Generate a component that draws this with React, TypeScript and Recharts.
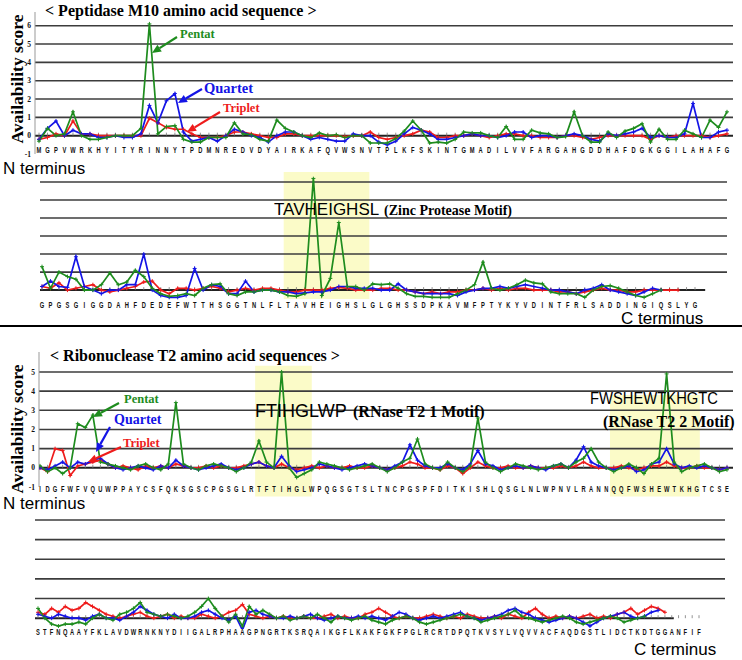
import React from "react";
import { LineChart, Line, XAxis, YAxis, ReferenceLine, ReferenceArea } from "recharts";

const GREEN = "#1e8c1e";
const BLUE = "#1414e6";
const RED = "#ee1c1c";

// ---- Peptidase M10, first row ----
const seqM10a = "MGPVWRKHYITYRINNYTPDMNREDVDYAIRKAFQVWSNVTPLKFSKINTGMADILVVFARGAHGDDHAFDGKGGILAHAFG".split("");
const pentatM10a = [-0.3, 0.4, 0.0, 0.1, 1.3, 0.0, -0.2, -0.2, -0.1, 0.0, 0.0, 0.0, 0.4, 6.1, 0.1, 0.5, 0.55, -0.2, -0.35, -0.35, -0.1, -0.1, -0.1, 0.7, 0.1, 0.05, -0.2, -0.3, 0.85, 0.4, 0.2, 0.0, -0.1, 0.15, 0.0, 0.05, -0.1, 0.0, 0.0, -0.4,
  -0.4, -0.4, -0.15, 0.25, 0.8, 0.3, -0.4, -0.35, -0.4, -0.2, 0.2, 0.15, 0.15, 0.0, -0.1, 0.5, -0.2, -0.2, 0.3, 0.15, 0.1, -0.1, -0.05, 1.3, 0.0, -0.35, -0.35, 0.2, -0.1, 0.25, 0.4, 0.65, -0.35, 0.35, -0.2, -0.2, 0.3, 0.1, -0.1, 0.85, 0.45, 1.3];
const quartetM10a = [-0.2, 0.4, 0.8, 0.0, 0.3, 0.1, 0.1, -0.1, -0.1, 0.0, -0.1, -0.1, 0.1, 1.65, 0.7, 1.9, 2.3, 0.2, -0.3, -0.2, -0.1, -0.3, 0.0, 0.35, 0.2, 0.0, -0.1, -0.35, 0.0, 0.2, 0.2, 0.0, -0.2, -0.1, -0.2, -0.3, -0.3, 0.1, 0.0, 0.0,
  -0.35, -0.5, -0.3, 0.1, 0.45, 0.3, 0.1, -0.2, -0.2, -0.1, 0.0, 0.1, 0.0, 0.0, -0.1, 0.0, 0.2, 0.2, -0.1, 0.0, 0.0, -0.1, 0.0, 0.1, 0.0, -0.2, -0.3, 0.1, 0.0, 0.1, 0.2, 0.4, -0.1, 0.0, -0.1, -0.1, 0.1, 1.75, -0.1, -0.1, 0.2, 0.3];
const tripletM10a = [-0.2, -0.1, 0.1, 0.0, 0.8, 0.1, 0.1, 0.0, 0.0, 0.0, 0.0, 0.0, 0.0, 0.95, 0.7, 0.45, 0.35, 0.35, 0.1, -0.1, -0.1, -0.1, 0.0, 0.2, 0.2, 0.1, 0.0, -0.1, -0.1, 0.1, 0.1, 0.0, 0.0, 0.0, 0.0, 0.0, -0.05, 0.0, 0.0, 0.2,
  -0.1, -0.2, -0.1, 0.0, 0.1, 0.3, 0.2, -0.1, -0.1, 0.0, 0.0, 0.1, 0.0, -0.1, 0.0, 0.1, 0.1, 0.0, 0.0, -0.1, -0.1, -0.1, 0.0, 0.0, -0.1, -0.2, -0.1, 0.0, 0.0, 0.0, 0.0, 0.0, -0.2, 0.0, -0.1, 0.0, 0.0, 0.0, 0.0, -0.1, 0.0, 0.1];

// ---- Peptidase M10, second row ----
const seqM10b = "GPGSGIGGDAHFDEDEFWTTHSGGTNLFLTAVHEIGHSLGLGHSSDPKAVMFPTYKYVDINTFRLSADDINGIQSLYG".split("");
const pentatM10b = [1.3, 0.1, 1.0, 0.75, 0.6, 0.0, 0.0, 0.3, 0.95, 0.3, 0.45, 1.1, 0.75, 0.1, -0.2, -0.35, -0.3, -0.2, -0.3, 0.1, 0.3, 0.35, -0.2, -0.3, -0.1, -0.1, 0.0, 0.0, -0.1, -0.3, -0.35, -0.2, 6.2, -0.3, 0.65, 3.75, 0.2, 0.2, 0.0,
  0.35, 0.3, 0.35, 0.1, -0.2, -0.35, -0.35, -0.4, -0.4, -0.4, -0.2, 0.0, 0.3, 1.55, 0.1, 0.0, 0.1, 0.3, 0.55, 0.4, 0.35, -0.1, -0.2, -0.2, -0.2, -0.4, 0.0, 0.2, 0.25, 0.1, -0.1, -0.3, -0.4, -0.2, 0.0, null, null, null, null];
const quartetM10b = [0.2, 0.5, 0.2, 0.15, 1.85, 0.2, 0.0, -0.2, 0.0, 0.0, 0.3, 0.3, 2.0, 0.0, -0.3, -0.4, -0.4, -0.3, 1.2, 0.0, 0.3, 0.2, -0.2, -0.2, 0.5, -0.1, 0.0, 0.0, -0.1, -0.1, -0.2, -0.15, -0.1, -0.1, 0.0, 0.2, 0.2, 0.1, 0.1,
  0.1, 0.0, 0.0, 0.35, 0.0, -0.1, -0.2, -0.2, -0.2, -0.2, -0.3, -0.1, 0.0, 0.1, 0.1, 0.2, 0.1, 0.2, 0.3, 0.2, 0.1, 0.0, 0.0, -0.1, -0.2, 0.0, 0.1, 0.3, 0.0, -0.1, -0.2, -0.3, -0.1, 0.1, 0.0, null, null, null, null];
const tripletM10b = [0.2, 0.1, 0.4, 0.0, 0.1, 0.2, 0.3, 0.0, -0.1, 0.0, 0.1, 0.2, 0.45, 0.5, 0.0, -0.2, 0.1, 0.1, 0.0, 0.1, 0.2, 0.1, -0.1, 0.0, 0.1, 0.0, 0.1, 0.1, 0.0, -0.1, -0.1, 0.0, 0.0, 0.0, 0.1, 0.15, 0.1, 0.0, 0.0,
  0.0, 0.1, 0.1, 0.0, 0.0, -0.1, -0.2, -0.1, -0.2, -0.1, -0.1, 0.0, 0.0, 0.1, 0.0, 0.1, 0.0, 0.1, 0.1, 0.0, 0.0, 0.0, -0.1, -0.1, -0.2, -0.1, 0.0, 0.1, 0.0, 0.0, -0.1, -0.1, 0.0, 0.0, 0.0, 0.0, 0.0, null, null];

// ---- Ribonuclease T2, first row ----
const seqT2a = "IDGFWFVQUWPPAYCSFQKSGSCPGSGLRTFTIHGLWPQGSGTSLTNCPGSPFDITKISHLQSGLNLWPNVLRANNQQFWSHEWTKHGTCSE".split("");
const pentatT2a = [0.1, -0.2, 0.0, -0.3, 0.0, 2.3, 2.1, 2.75, 0.3, 0.2, 0.1, 0.0, -0.1, 0.1, 0.2, 0.0, -0.1, 0.2, 3.4, 0.2, 0.0, -0.1, 0.1, 0.2, 0.1, 0.0, -0.2, 0.0, 0.3, 1.4, 0.3, 0.0, 5.0, 0.0, -0.5, -0.3, -0.1, 0.3, 0.2, 0.1, 0.0, -0.1, 0.0, 0.1, 0.2, 0.0, -0.2, 0.0, 0.3, 0.5, 1.5, 0.2, 0.0, -0.1, 0.3, 0.0, -0.2, 0.1, 2.6, 0.3, 0.0, -0.2, 0.0, 0.2, 0.1, 0.0, -0.1, 0.0, 0.1, 0.2, 0.0, 0.3, 0.5, 1.0, 0.3, 0.0, -0.2, 0.0, 0.2, 0.0, -0.3, 0.2, 0.5, 4.9, 0.3, -0.2, 0.0, 0.1, 0.2, 0.0, -0.2, -0.1];
const quartetT2a = [0.0, -0.1, 0.1, 0.3, 0.0, 0.3, 0.2, 0.4, 0.5, 0.2, 0.0, -0.1, 0.0, 0.1, 0.0, -0.1, 0.1, 0.0, 0.4, 0.1, 0.0, -0.1, 0.0, 0.1, 0.2, 0.0, -0.1, 0.0, 0.2, 0.3, 0.1, 0.0, 0.6, 0.1, -0.2, -0.1, 0.0, 0.2, 0.1, 0.0, -0.1, 0.0, 0.1, 0.2, 0.1, 0.0, -0.1, 0.1, 0.3, 1.2, 0.4, 0.1, 0.0, 0.0, 0.2, 0.0, -0.1, 0.2, 0.9, 0.2, 0.1, -0.1, 0.0, 0.1, 0.0, 0.1, 0.0, -0.1, 0.1, 0.2, 0.0, 0.4, 1.1, 0.3, 0.1, 0.0, -0.1, 0.0, 0.1, -0.2, -0.1, 0.2, 0.3, 1.0, 0.2, 0.0, 0.1, 0.0, 0.1, 0.0, -0.1, 0.0];
const tripletT2a = [0.0, -0.2, 1.0, 0.9, -0.4, 0.1, 0.2, 0.3, 0.4, 0.2, 0.0, 0.1, 0.0, -0.1, 0.1, 0.0, 0.1, 0.0, 0.2, 0.1, 0.0, 0.0, 0.1, 0.0, 0.1, 0.0, 0.0, 0.1, 0.2, 0.3, 0.1, 0.0, 0.2, 0.0, -0.1, 0.0, 0.1, 0.0, 0.1, 0.0, 0.0, 0.1, 0.0, 0.0, 0.1, 0.0, -0.1, 0.0, 0.1, 0.3, 0.2, 0.0, 0.0, -0.1, 0.1, 0.0, -0.3, 0.0, 0.3, 0.1, 0.0, 0.0, 0.1, 0.0, 0.0, 0.1, 0.0, 0.0, 0.0, 0.1, 0.0, 0.1, 0.3, 0.1, 0.0, 0.0, 0.0, 0.1, 0.0, -0.1, 0.0, 0.1, 0.1, 0.3, 0.1, 0.0, 0.0, 0.1, 0.0, 0.0, -0.1, 0.0];

// ---- Ribonuclease T2, second row ----
const seqT2b = "STFNQAAYFKLAVDWRNKNYDIIGALRPHAAGPNGRTKSRQAIKGFLKAKFGKFPGLRCRTDPQTKVSYLVQVVACFAQDGSTLIDCTKDTGGANFIF".split("");
const pentatT2b = [0.5, 0.0, -0.3, -0.4, -0.3, -0.3, -0.2, -0.3, 0.0, 0.2, 0.0, -0.1, 0.2, 0.3, 0.5, 0.8, 0.3, 0.2, 0.1, 0.2, 0.1, 0.0, 0.1, 0.3, 0.6, 1.0, 0.5, 0.1, -0.2, 0.2, -0.4, 0.6, 0.2, 0.4, 0.2, 0.0, 0.1, -0.1, 0.0, 0.1, 0.0, 0.2, 0.0, -0.2, 0.1, 0.0, -0.1, 0.0, 0.1, -0.1, -0.2, -0.3, -0.1, 0.0, 0.1, 0.0, -0.2, -0.3, -0.2, -0.1, 0.0, 0.1, 0.2, 0.1, 0.0, -0.2, -0.1, 0.0, 0.1, 0.2, 0.4, 0.1, 0.0, -0.1, -0.2, -0.1, 0.0, 0.1, 0.0, -0.2, -0.3, -0.2, -0.1, 0.0, 0.1, 0.0, -0.2, -0.1, 0.0, 0.1, null, null, null, null];
const quartetT2b = [0.2, 0.1, 0.0, 0.2, 0.1, 0.0, 0.0, -0.1, 0.1, 0.2, 0.0, 0.0, -0.1, 0.1, 0.3, 0.6, 0.4, 0.2, 0.1, 0.0, 0.2, 0.0, 0.0, 0.1, 0.3, 0.4, 0.2, 0.0, -0.1, 0.1, -0.6, 0.3, 0.4, 0.2, 0.1, 0.0, 0.0, 0.1, 0.0, 0.1, 0.2, 0.0, -0.1, 0.0, 0.1, 0.0, 0.0, 0.1, 0.0, 0.1, 0.0, -0.1, 0.1, 0.3, 0.2, 0.0, -0.1, 0.0, 0.1, 0.0, 0.1, 0.2, 0.3, 0.1, 0.0, -0.1, 0.0, 0.1, 0.2, 0.4, 0.5, 0.3, 0.2, 0.0, -0.1, -0.2, -0.1, 0.0, 0.1, 0.0, -0.2, -0.4, -0.2, 0.0, 0.1, 0.2, 0.3, 0.1, 0.0, 0.1, 0.3, 0.4, null, null];
const tripletT2b = [0.3, 0.2, 0.5, 0.3, 0.6, 0.4, 0.5, 0.8, 0.6, 0.4, 0.2, 0.1, 0.0, 0.1, 0.2, 0.3, 0.1, 0.0, 0.1, 0.2, 0.0, 0.1, 0.0, 0.0, 0.2, 0.1, 0.0, 0.1, 0.3, 0.4, 0.7, 0.2, 0.1, 0.0, 0.1, 0.0, 0.1, 0.0, 0.0, 0.1, 0.0, 0.0, 0.1, 0.2, 0.0, 0.1, 0.0, 0.0, 0.2, 0.3, 0.5, 0.3, 0.1, 0.0, 0.1, 0.0, 0.0, 0.1, 0.2, 0.1, 0.0, 0.1, 0.0, 0.2, 0.1, 0.0, 0.0, 0.1, 0.0, 0.2, 0.1, 0.0, 0.3, 0.5, 0.2, 0.0, 0.1, 0.0, 0.1, 0.0, 0.1, 0.2, 0.0, 0.1, 0.0, 0.2, 0.3, 0.5, 0.2, 0.4, 0.6, 0.5, 0.3, null];

const Cross = (props: any) => {
  const { cx, cy, stroke } = props;
  if (cx == null || cy == null || props.value == null) return <g />;
  return <path d={`M${cx - 2},${cy}H${cx + 2}M${cx},${cy - 2}V${cy + 2}`} stroke={stroke} strokeWidth={1} fill="none" />;
};

// narrow bold residue letters
const ResidueTick = (props: any) => {
  const { x, y, payload, seq, dy } = props;
  const aa = seq[payload.value] ?? "";
  return (
    <text
      transform={`translate(${x},${y + dy}) scale(0.72,1.15)`}
      textAnchor="middle"
      fontSize={8}
      fontWeight={700}
      fill="#111"
      fontFamily="'Liberation Sans', Arial, sans-serif"
    >
      {aa}
    </text>
  );
};

type Box = { x1: number; x2: number; y1: number; y2: number };

type PanelProps = {
  seq: string[];
  pentat: (number | null)[];
  quartet: (number | null)[];
  triplet: (number | null)[];
  top: number;
  height: number;
  plotLeft: number;
  plotRight: number;
  plotTop: number;
  plotBottom: number;
  firstX: number;
  lastX: number;
  yDomain: [number, number];
  grid: number[];
  yTicks?: number[];
  baselineEnd?: number;
  letterDy: number;
  boxes?: Box[];
};

const Panel = (p: PanelProps) => {
  const n = p.seq.length;
  const data = p.seq.map((aa, i) => ({ i, aa, pentat: p.pentat[i], quartet: p.quartet[i], triplet: p.triplet[i] }));
  const step = (p.lastX - p.firstX) / (n - 1);
  const xMin = -(p.firstX - p.plotLeft) / step;
  const xMax = n - 1 + (p.plotRight - p.lastX) / step;
  const yAxisW = p.yTicks ? 22 : 0;
  const xAxisH = 12;
  const unit = (p.plotBottom - p.plotTop) / (p.yDomain[1] - p.yDomain[0]);
  const tickLen = 3 / unit;
  const bEnd = p.baselineEnd ?? xMax;
  return (
    <div style={{ position: "absolute", left: 0, top: p.top }}>
      <LineChart
        width={742}
        height={p.height}
        data={data}
        margin={{
          top: p.plotTop - p.top,
          right: 742 - p.plotRight,
          left: p.plotLeft - yAxisW,
          bottom: p.top + p.height - p.plotBottom - xAxisH,
        }}
      >
        <XAxis
          dataKey="i"
          type="number"
          domain={[xMin, xMax]}
          allowDataOverflow
          ticks={data.map((d) => d.i)}
          interval={0}
          axisLine={false}
          tickLine={false}
          tickSize={0}
          tickMargin={0}
          height={xAxisH}
          tick={<ResidueTick seq={p.seq} dy={p.letterDy} />}
        />
        <YAxis
          type="number"
          domain={p.yDomain}
          allowDataOverflow
          hide={!p.yTicks}
          width={yAxisW}
          ticks={p.yTicks}
          interval={0}
          axisLine={{ stroke: "#999", strokeWidth: 1 }}
          tickLine={false}
          tickSize={0}
          tickMargin={4}
          tick={{ fontSize: 7.5, fontWeight: 700, fill: "#111", fontFamily: "'Liberation Serif', serif" }}
        />
        {(p.boxes ?? []).map((b, k) => (
          <ReferenceArea key={`b${k}`} x1={b.x1} x2={b.x2} y1={b.y1} y2={b.y2} fill="#fbfbc8" fillOpacity={1} stroke="none" ifOverflow="visible" />
        ))}
        {p.grid.map((g) => (
          <ReferenceLine key={`g${g}`} y={g} stroke="#3c3c3c" strokeWidth={1.6} />
        ))}
        <ReferenceLine segment={[{ x: xMin, y: 0 }, { x: bEnd, y: 0 }]} stroke="#222" strokeWidth={2} />
        {data.map((d) => (
          <ReferenceLine key={`t${d.i}`} segment={[{ x: d.i, y: 0 }, { x: d.i, y: tickLen }]} stroke="#777" strokeWidth={0.8} />
        ))}
        <Line type="linear" dataKey="triplet" stroke={RED} strokeWidth={1.7} dot={<Cross />} isAnimationActive={false} connectNulls={false} />
        <Line type="linear" dataKey="quartet" stroke={BLUE} strokeWidth={1.7} dot={<Cross />} isAnimationActive={false} connectNulls={false} />
        <Line type="linear" dataKey="pentat" stroke={GREEN} strokeWidth={1.7} dot={<Cross />} isAnimationActive={false} connectNulls={false} />
      </LineChart>
    </div>
  );
};

const Arrow = ({ x1, y1, x2, y2, color }: { x1: number; y1: number; x2: number; y2: number; color: string }) => {
  const a = Math.atan2(y2 - y1, x2 - x1);
  const L = 9;
  const W = 4;
  const bx = x2 - L * Math.cos(a);
  const by = y2 - L * Math.sin(a);
  const px = -Math.sin(a) * W;
  const py = Math.cos(a) * W;
  return (
    <g>
      <line x1={x1} y1={y1} x2={bx} y2={by} stroke={color} strokeWidth={2.2} />
      <polygon points={`${x2},${y2} ${bx + px},${by + py} ${bx - px},${by - py}`} fill={color} />
    </g>
  );
};

const serifBold = { fontFamily: "'Liberation Serif', 'Times New Roman', serif", fontWeight: 700 };
const sans = { fontFamily: "'Liberation Sans', Arial, sans-serif" };

export default function App() {
  return (
    <div style={{ position: "absolute", left: 0, top: 0, width: 742, height: 660, background: "#fff", overflow: "hidden" }}>
      <Panel
        seq={seqM10a} pentat={pentatM10a} quartet={quartetM10a} triplet={tripletM10a}
        top={0} height={170} plotLeft={35} plotRight={733} plotTop={12} plotBottom={154}
        firstX={39} lastX={727} yDomain={[-1, 6.75]} grid={[1, 2, 3, 4, 5, 6]}
        yTicks={[-1, 0, 1, 2, 3, 4, 5, 6]} letterDy={-1}
      />
      <Panel
        seq={seqM10b} pentat={pentatM10b} quartet={quartetM10b} triplet={tripletM10b}
        top={170} height={145} plotLeft={40} plotRight={727} plotTop={176.6} plotBottom={300}
        firstX={42} lastX={695} yDomain={[-0.55, 6.3]} grid={[1, 2, 3, 4, 5, 6]}
        baselineEnd={78.2} letterDy={8}
        boxes={[{ x1: 28.5, x2: 38.6, y1: -0.5, y2: 6.55 }]}
      />
      <Panel
        seq={seqT2a} pentat={pentatT2a} quartet={quartetT2a} triplet={tripletT2a}
        top={340} height={160} plotLeft={39} plotRight={733} plotTop={352} plotBottom={487}
        firstX={40} lastX={727} yDomain={[-1, 6.04]} grid={[1, 2, 3, 4, 5]}
        yTicks={[-1, 0, 1, 2, 3, 4, 5]} letterDy={5}
        boxes={[{ x1: 28.5, x2: 36.0, y1: -1.5, y2: 5.32 }, { x1: 75.5, x2: 87.4, y1: -1.5, y2: 3.8 }]}
      />
      <Panel
        seq={seqT2b} pentat={pentatT2b} quartet={quartetT2b} triplet={tripletT2b}
        top={505} height={140} plotLeft={35} plotRight={725} plotTop={520} plotBottom={629}
        firstX={38} lastX={699} yDomain={[-0.55, 5]} grid={[1, 2, 3, 4, 5]}
        baselineEnd={93.3} letterDy={6}
      />
      <svg width={742} height={660} style={{ position: "absolute", left: 0, top: 0, pointerEvents: "none" }}>
        <text x={45} y={16} fontSize={16} {...serifBold} fill="#000">&lt; Peptidase M10 amino acid sequence &gt;</text>
        <text transform="translate(23,79) rotate(-90)" textAnchor="middle" fontSize={17.5} {...serifBold} fill="#000">Availability score</text>
        <text x={3} y={174} fontSize={17} {...sans} fill="#000">N terminus</text>

        <text x={180} y={38} fontSize={12.5} {...serifBold} fill={GREEN}>Pentat</text>
        <Arrow x1={177} y1={37} x2={152} y2={53} color={GREEN} />
        <text x={204} y={93} fontSize={14.5} {...serifBold} fill={BLUE}>Quartet</text>
        <Arrow x1={202} y1={89} x2={178} y2={103} color={BLUE} />
        <text x={223} y={112} fontSize={12.5} {...serifBold} fill={RED}>Triplet</text>
        <Arrow x1={220} y1={112} x2={187} y2={132} color={RED} />

        <text x={274} y={215} fontSize={17} {...sans} fill="#000">TAVHEIGHSL</text>
        <text x={384} y={215} fontSize={14} {...serifBold} fill="#000">(Zinc Protease Motif)</text>
        <text x={621} y={324} fontSize={17} {...sans} fill="#000">C terminus</text>

        <line x1={0} y1={326} x2={742} y2={326} stroke="#000" strokeWidth={2} />

        <text x={50} y={361} fontSize={16} {...serifBold} fill="#000">&lt; Ribonuclease T2 amino acid sequences &gt;</text>
        <text transform="translate(23,429) rotate(-90)" textAnchor="middle" fontSize={17.5} {...serifBold} fill="#000">Availability score</text>
        <text x={3} y={509} fontSize={17} {...sans} fill="#000">N terminus</text>

        <text x={124} y={403} fontSize={12.5} {...serifBold} fill={GREEN}>Pentat</text>
        <Arrow x1={119} y1={403} x2={93} y2={417} color={GREEN} />
        <text x={114} y={424} fontSize={14} {...serifBold} fill={BLUE}>Quartet</text>
        <Arrow x1={110} y1={427} x2={96} y2={452} color={BLUE} />
        <text x={123} y={447} fontSize={12.5} {...serifBold} fill={RED}>Triplet</text>
        <Arrow x1={121} y1={447} x2={88} y2={462} color={RED} />

        <text x={255} y={417} fontSize={18} {...sans} fill="#000">FTIHGLWP</text>
        <text x={353} y={417} fontSize={16} {...serifBold} fill="#000">(RNase T2 1 Motif)</text>
        <text x={590} y={404} fontSize={16} textLength={128} lengthAdjust="spacingAndGlyphs" {...sans} fill="#000">FWSHEWTKHGTC</text>
        <text x={603} y={427} fontSize={16} {...serifBold} fill="#000">(RNase T2 2 Motif)</text>

        <text x={634} y={655} fontSize={17} {...sans} fill="#000">C terminus</text>
      </svg>
    </div>
  );
}
